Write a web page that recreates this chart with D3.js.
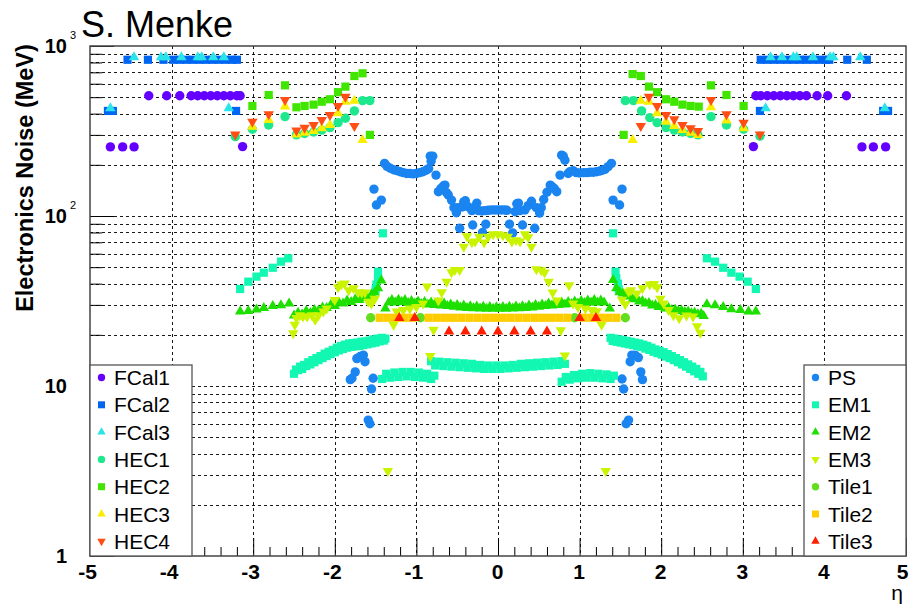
<!DOCTYPE html>
<html>
<head>
<meta charset="utf-8">
<script src="https://cdn.jsdelivr.net/npm/d3@7"></script>
<style>
  body { margin: 0; background: #fff; }
  text { font-family: "Liberation Sans", Arial, Helvetica, sans-serif; }
</style>
</head>
<body>
<svg id="chart" width="910" height="607"></svg>
<script>
// ---- data: [eta, noise in MeV] ----
const FCAL1 = [
  [-4.75,255],[-4.6,255],[-4.46,255],
  [-4.28,510],[-4.06,510],[-3.9,510],[-3.76,510],[-3.68,510],[-3.6,510],[-3.52,510],[-3.44,510],[-3.36,510],[-3.28,510],[-3.2,510],[-3.16,510],
  [-3.13,256],[3.13,256],
  [3.16,510],[3.22,510],[3.3,510],[3.38,510],[3.46,510],[3.54,510],[3.62,510],[3.7,510],[3.78,510],[3.91,510],[4.04,510],[4.27,510],
  [4.46,255],[4.6,255],[4.75,255]
];
const FCAL2 = [
  [-4.78,415],[-4.72,415],[-4.54,830],[-4.29,830],[-4.1,830],[-3.98,830],[-3.9,830],[-3.82,830],[-3.74,830],[-3.66,830],[-3.58,830],[-3.5,830],[-3.42,830],[-3.34,830],[-3.26,830],[-3.2,830],[-3.21,415],
  [3.21,415],[3.22,830],[3.3,830],[3.38,830],[3.46,830],[3.54,830],[3.62,830],[3.7,830],[3.78,830],[3.86,830],[3.94,830],[4.02,830],[4.06,830],[4.28,830],[4.52,830],[4.72,415],[4.78,415]
];
const FCAL3 = [
  [-4.75,430],[-4.46,860],[-4.13,860],[-4.07,860],[-3.88,860],[-3.68,860],[-3.63,860],[-3.49,860],[-3.36,860],[-3.3,430],
  [3.28,430],[3.34,860],[3.48,860],[3.62,860],[3.66,860],[3.86,860],[4.07,860],[4.11,860],[4.44,860],[4.74,430]
];
const HEC1 = [
  [-3.22,293],[-3.01,324],[-2.81,343],[-2.61,384],[-2.47,300],[-2.37,306],[-2.26,312],[-2.16,320],[-2.06,331],[-1.96,354],[-1.87,376],[-1.76,415],[-1.66,477],[-1.57,477],
  [1.56,477],[1.66,477],[1.76,415],[1.86,379],[1.95,354],[2.06,331],[2.16,320],[2.26,312],[2.36,306],[2.45,300],[2.61,384],[2.8,343],[3.01,324],[3.21,295]
];
const HEC2 = [
  [-3.01,444],[-2.81,515],[-2.61,587],[-2.47,436],[-2.37,444],[-2.26,452],[-2.16,470],[-2.06,486],[-1.96,535],[-1.87,577],[-1.76,666],[-1.66,691],[-1.57,300],
  [1.54,300],[1.65,684],[1.75,666],[1.85,577],[1.95,535],[2.06,486],[2.16,470],[2.26,452],[2.36,444],[2.46,440],[2.61,587],[2.8,515],[3.01,444]
];
const HEC3 = [
  [-3.01,335],[-2.81,367],[-2.61,440],[-2.47,302],[-2.37,309],[-2.26,316],[-2.16,328],[-2.06,343],[-1.96,402],[-1.87,470],[-1.76,477],[-1.66,280],
  [1.65,280],[1.75,477],[1.85,470],[1.95,402],[2.06,359],[2.16,338],[2.26,320],[2.36,309],[2.45,300],[2.61,436],[2.8,364],[3.01,328]
];
const HEC4 = [
  [-3.22,302],[-3.01,359],[-2.81,397],[-2.61,481],[-2.47,318],[-2.37,331],[-2.26,343],[-2.16,367],[-2.06,393],[-1.96,444],[-1.87,503],[-1.76,338],
  [1.75,338],[1.85,503],[1.95,444],[2.06,393],[2.16,371],[2.26,343],[2.36,328],[2.45,316],[2.61,481],[2.8,397],[3.01,354],[3.21,302]
];
const PS = [
  [-1.81,10.9],[-1.79,11.1],[-1.75,12.1],[-1.73,14.5],[-1.69,14.9],[-1.65,15.2],[-1.63,13.9],[-1.59,6.3],[-1.57,6.0],[-1.55,9.6],[-1.53,11.1],
  [-1.52,144],[-1.49,116],[-1.43,124],
  [-1.39,204],[-1.36,196],[-1.32,191],[-1.28,187],[-1.24,185],[-1.2,182],[-1.16,180],[-1.12,178],[-1.08,178],[-1.04,177],[-1.0,178],[-0.96,180],[-0.92,182],[-0.88,186],[-0.85,190],
  [-0.83,225],[-0.8,225],[-0.82,210],[-0.76,174],
  [-0.73,139],[-0.7,145],[-0.67,150],[-0.65,152],[-0.63,137],[-0.61,133],[-0.57,124],[-0.54,112],[-0.51,104.5],[-0.49,112],[-0.44,113],[-0.42,121],[-0.4,123],[-0.36,113],[-0.32,107.5],[-0.29,112],[-0.26,119],[-0.24,107.5],[-0.2,107],[-0.16,107.5],[-0.12,108],[-0.08,108.5],[-0.04,108.5],
  [-0.47,84.7],[-0.31,88.5],[-0.15,89.5],[-0.19,80],
  [0.0,108.5],[0.04,108.5],[0.08,108.5],[0.11,108],[0.14,89.5],[0.18,79.5],[0.21,106],[0.23,118],[0.25,119],[0.27,107.5],[0.3,88.5],[0.33,108.5],[0.37,115],[0.41,122],[0.45,84.7],[0.47,112],[0.51,104],[0.53,112],[0.56,125],[0.6,138],[0.64,152],[0.66,149],[0.69,145],[0.72,139],
  [0.76,174],[0.78,228],[0.8,225],[0.82,213],[0.86,178],[0.88,182],[0.92,185],[0.96,180],[1.0,179],[1.05,180],[1.09,180],[1.13,181],[1.17,181],[1.21,182],[1.25,184],[1.28,186],[1.31,188],[1.35,195],[1.39,204],
  [1.41,124],[1.49,116],[1.52,144],
  [1.52,11.0],[1.54,9.6],[1.57,6.0],[1.6,6.3],[1.62,13.9],[1.64,15.2],[1.68,15.2],[1.72,14.7],[1.75,12.1],[1.77,10.9]
];
const EM1 = [
  [-3.16,37.2],[-3.06,41.1],[-2.96,44],[-2.87,46.4],[-2.76,49.6],[-2.66,53.9],[-2.57,56.4],
  [-2.5,11.8],[-2.475,12.5],[-2.45,12.4],[-2.425,13.0],[-2.4,12.6],[-2.375,13.3],[-2.35,13.1],[-2.325,13.8],[-2.3,13.4],[-2.275,14.2],[-2.25,13.8],[-2.225,14.6],[-2.2,14.2],[-2.175,15.0],[-2.15,14.6],[-2.125,15.5],[-2.1,15.0],[-2.075,15.9],[-2.05,15.4],[-2.025,16.3],[-2.0,15.8],[-1.975,16.8],[-1.95,16.2],[-1.925,17.2],[-1.9,16.5],[-1.875,17.5],[-1.85,16.8],[-1.825,17.8],[-1.8,17.0],[-1.775,17.9],[-1.75,17.1],[-1.725,18.0],[-1.7,17.2],[-1.675,18.2],[-1.65,17.4],[-1.625,18.3],[-1.6,17.6],[-1.575,18.5],[-1.55,17.8],[-1.525,18.8],[-1.5,18.0],[-1.475,19.0],[-1.45,18.3],[-1.425,19.2],[-1.4,18.5],[-1.38,19.0],
  [-1.5,37],[-1.49,39.5],[-1.47,43],[-1.47,47],[-1.41,79.1],
  [-1.42,11.0],[-1.37,11.8],[-1.32,11.2],[-1.27,12.0],[-1.22,11.3],[-1.17,12.1],[-1.12,11.4],[-1.07,12.1],[-1.02,11.3],[-0.97,12.0],[-0.92,11.2],[-0.87,11.8],[-0.82,11.0],[-0.78,11.5],
  [-0.82,14.0],[-0.77,13.2],[-0.72,13.9],[-0.67,13.1],[-0.62,13.8],[-0.57,13.0],[-0.52,13.7],[-0.47,12.9],[-0.42,13.6],[-0.37,12.8],[-0.32,13.5],[-0.27,12.7],[-0.22,13.3],[-0.17,12.6],[-0.12,13.2],[-0.07,12.6],[-0.02,13.2],
  [0.03,12.6],[0.08,13.2],[0.13,12.7],[0.18,13.3],[0.23,12.8],[0.28,13.5],[0.33,12.9],[0.38,13.6],[0.43,13.0],[0.48,13.7],[0.53,13.1],[0.58,13.8],[0.63,13.2],[0.68,13.9],[0.73,13.3],[0.78,14.0],[0.82,13.5],
  [0.78,10.6],[0.83,11.3],[0.88,10.9],[0.93,11.6],[0.98,11.1],[1.03,11.8],[1.08,11.2],[1.13,11.9],[1.18,11.2],[1.23,11.8],[1.28,11.1],[1.33,11.7],[1.38,11.0],[1.42,11.5],
  [1.41,79.1],[1.44,47],[1.45,43],[1.47,40],[1.48,37],
  [1.38,19.2],[1.405,18.4],[1.43,19.0],[1.455,18.2],[1.48,18.8],[1.505,18.0],[1.53,18.6],[1.555,17.8],[1.58,18.4],[1.605,17.6],[1.63,18.2],[1.655,17.4],[1.68,18.0],[1.705,17.2],[1.73,17.8],[1.755,17.0],[1.78,17.5],[1.805,16.6],[1.83,17.2],[1.855,16.3],[1.88,16.8],[1.905,15.9],[1.93,16.4],[1.955,15.6],[1.98,16.1],[2.005,15.3],[2.03,15.8],[2.055,14.9],[2.08,15.4],[2.105,14.6],[2.13,15.0],[2.155,14.2],[2.18,14.6],[2.205,13.8],[2.23,14.2],[2.255,13.4],[2.28,13.8],[2.305,13.0],[2.33,13.4],[2.355,12.6],[2.38,13.0],[2.405,12.2],[2.43,12.6],[2.455,11.8],[2.48,12.1],[2.51,11.4],
  [2.56,56.4],[2.66,53.9],[2.76,49.6],[2.86,46.4],[2.96,44],[3.06,41.1],[3.16,37.2]
];
const EM2 = [
  [-3.16,27.4],[-3.06,27.6],[-2.96,28.2],[-2.87,28.8],[-2.76,29.6],[-2.66,29.9],[-2.56,30.6],
  [-2.5,26.0],[-2.45,27.0],[-2.4,26.4],[-2.35,27.6],[-2.3,26.9],[-2.25,28.0],[-2.2,27.8],[-2.15,29.0],[-2.1,28.8],[-2.05,30.0],[-2.0,29.6],[-1.95,31.0],[-1.9,30.6],[-1.85,31.8],[-1.8,31.2],[-1.75,32.4],[-1.7,32.0],[-1.65,33.2],[-1.6,33.0],[-1.55,34.6],[-1.51,35.5],[-1.47,37.6],
  [-1.43,41.8],
  [-1.38,28.6],[-1.34,31.0],[-1.3,32.0],[-1.26,31.0],[-1.22,32.2],[-1.18,31.2],[-1.14,32.0],[-1.1,30.8],[-1.06,31.6],[-1.02,30.6],[-0.98,31.4],[-0.94,30.4],[-0.9,31.2],[-0.86,30.2],[-0.82,31.0],[-0.78,30.0],[-0.74,30.8],[-0.7,29.8],[-0.66,30.6],[-0.62,29.6],[-0.58,30.2],[-0.54,29.3],[-0.5,30.0],[-0.46,29.0],[-0.42,29.8],[-0.38,28.8],[-0.34,29.5],[-0.3,28.7],[-0.26,29.4],[-0.22,28.6],[-0.18,29.3],[-0.14,28.5],[-0.1,29.2],[-0.06,28.5],[-0.02,29.1],
  [0.02,28.5],[0.06,29.2],[0.1,28.5],[0.14,29.3],[0.18,28.6],[0.22,29.4],[0.26,28.7],[0.3,29.5],[0.34,28.8],[0.38,29.8],[0.42,29.0],[0.46,30.0],[0.5,29.3],[0.54,30.2],[0.58,29.6],[0.62,30.6],[0.66,29.8],[0.7,30.8],[0.74,30.0],[0.78,31.0],[0.82,30.2],[0.86,31.2],[0.9,30.4],[0.94,31.4],[0.98,30.6],[1.02,31.6],[1.06,30.8],[1.1,31.8],[1.14,31.0],[1.18,32.0],[1.22,31.0],[1.26,31.8],[1.3,31.0],[1.37,28.6],
  [1.41,42.0],
  [1.45,37.6],[1.49,35.6],[1.53,35.0],[1.57,33.6],[1.61,33.8],[1.65,32.4],[1.69,32.6],[1.73,31.4],[1.77,31.6],[1.81,30.6],[1.85,30.8],[1.89,29.8],[1.93,30.0],[1.97,29.2],[2.01,29.4],[2.05,28.6],[2.09,28.8],[2.13,28.0],[2.17,28.2],[2.21,27.6],[2.25,27.8],[2.29,27.2],[2.33,27.4],[2.37,26.8],[2.41,27.0],[2.45,26.4],[2.49,26.6],[2.52,25.8],
  [2.56,30.3],[2.66,29.9],[2.76,29.2],[2.86,28.3],[2.97,28.0],[3.07,27.4],[3.16,27.4]
];
const EM3 = [
  [-2.51,20.4],[-2.49,22.9],[-2.47,25.1],[-2.43,26.1],[-2.39,25.6],[-2.34,25.6],[-2.28,26.1],[-2.24,24.5],[-2.2,26.1],[-2.14,27.4],[-2.1,28.6],[-2.0,32.1],[-1.96,38.1],[-1.92,39.5],[-1.88,40.1],[-1.83,36.6],[-1.77,37.6],[-1.71,35.6],[-1.67,35.4],[-1.63,35.5],[-1.59,31.3],[-1.55,30.6],[-1.51,32.6],
  [-1.35,3.16],
  [-1.28,22.9],[-1.24,27.4],[-1.16,28],[-1.08,28.6],[-1.0,29.2],[-0.92,30.6],[-0.87,38.5],[-0.83,15.0],[-0.79,21.4],[-0.73,31.8],[-0.69,35.6],[-0.63,41.1],[-0.57,46.6],[-0.53,48.2],[-0.47,48.2],
  [-0.42,66],[-0.38,76],[-0.32,70],[-0.28,70.8],[-0.23,75.5],[-0.17,69.9],[-0.12,75.5],[-0.06,78],[0.0,78.2],[0.06,77],[0.12,75.5],[0.17,70.8],[0.22,72],[0.27,70.8],[0.33,78],[0.37,75],[0.41,66],
  [0.47,48.6],[0.53,48],[0.57,46.5],[0.62,41.1],[0.67,35.5],[0.72,31.8],[0.77,21.3],[0.82,15.1],[0.87,39.2],[0.92,30.6],[0.98,29.2],[1.07,28.6],[1.15,28],[1.21,27.5],[1.27,22.9],
  [1.32,3.16],
  [1.52,32.2],[1.56,30.3],[1.6,35.9],[1.63,36.6],[1.7,35],[1.77,37.6],[1.86,39.5],[1.91,39.8],[1.95,38.1],[1.99,32.6],[2.03,30.6],[2.09,28],[2.15,26.1],[2.22,25],[2.31,26],[2.39,25.6],[2.44,22.5],[2.48,20.6]
];
const TILE1 = [[-1.56,25.2],[-0.95,25.2],[0.94,25.2],[1.56,25.2]];
const TILE2 = [
  [-1.45,25.2],[-1.35,25.2],[-1.25,25.2],[-1.15,25.2],[-1.05,25.2],
  [-0.85,25.2],[-0.75,25.2],[-0.65,25.2],[-0.55,25.2],[-0.45,25.2],[-0.35,25.2],[-0.25,25.2],[-0.15,25.2],[-0.05,25.2],
  [0.05,25.2],[0.15,25.2],[0.25,25.2],[0.35,25.2],[0.45,25.2],[0.55,25.2],[0.65,25.2],[0.75,25.2],[0.85,25.2],
  [1.05,25.2],[1.15,25.2],[1.25,25.2],[1.35,25.2],[1.45,25.2]
];
const TILE3 = [
  [-1.21,25.1],[-1.02,25.1],[-0.6,20.9],[-0.4,20.9],[-0.2,20.9],[0.0,20.9],[0.2,20.9],[0.4,20.9],[0.6,20.9],[1.0,25.1],[1.2,25.1]
];

// axis ticks and labels
const ETA_TICKS = [-5,-4,-3,-2,-1,0,1,2,3,4,5];
const NOISE_MAJOR = [1,10,100,1000];
const NOISE_LABELS = [["1",""],["10",""],["10","2"],["10","3"]];

// series styling (legend order = drawing order)
const SERIES = [
  {name:"FCal1", values:FCAL1, shape:"circle", color:"#6400ff"},
  {name:"FCal2", values:FCAL2, shape:"square", color:"#0066f2"},
  {name:"FCal3", values:FCAL3, shape:"up",     color:"#2ae4ea"},
  {name:"HEC1",  values:HEC1,  shape:"circle", color:"#1ee88e"},
  {name:"HEC2",  values:HEC2,  shape:"square", color:"#40e600"},
  {name:"HEC3",  values:HEC3,  shape:"up",     color:"#f8ee00"},
  {name:"HEC4",  values:HEC4,  shape:"down",   color:"#ff4d14"},
  {name:"PS",    values:PS,    shape:"circle", color:"#1a84f0"},
  {name:"EM1",   values:EM1,   shape:"square", color:"#12f7b2"},
  {name:"EM2",   values:EM2,   shape:"up",     color:"#1ee000"},
  {name:"EM3",   values:EM3,   shape:"down",   color:"#c8f400"},
  {name:"Tile1", values:TILE1, shape:"circle", color:"#62de1e"},
  {name:"Tile2", values:TILE2, shape:"square", color:"#ffcc00"},
  {name:"Tile3", values:TILE3, shape:"up",     color:"#ff1e00"}
];

// ---- layout ----
const W = 910, H = 607;
const L = 90, R = 906, T = 46, B = 556;

const svg = d3.select("#chart");
svg.append("rect").attr("width", W).attr("height", H).attr("fill", "#fff");

const x = d3.scaleLinear().domain([-5, 5]).range([L, R]);
const y = d3.scaleLog().domain([1, 1000]).range([B, T]);

const noiseMinor = [];
[1, 10, 100].forEach(p => { for (let k = 2; k <= 9; k++) noiseMinor.push(k * p); });
const etaMinor = d3.range(-48, 49, 2).map(v => v / 10).filter(v => Math.abs(v - Math.round(v)) > 1e-6);

// grid
const grid = svg.append("g").attr("stroke", "#000").attr("stroke-width", 0.9)
  .attr("stroke-dasharray", "3,3").attr("shape-rendering", "crispEdges");
grid.selectAll("line.h").data(noiseMinor.concat([10, 100])).join("line").attr("class", "h")
  .attr("x1", L).attr("x2", R).attr("y1", d => Math.round(y(d)) + 0.5).attr("y2", d => Math.round(y(d)) + 0.5);
grid.selectAll("line.v").data(ETA_TICKS.filter(d => d > -5 && d < 5)).join("line").attr("class", "v")
  .attr("y1", T).attr("y2", B).attr("x1", d => Math.round(x(d)) + 0.5).attr("x2", d => Math.round(x(d)) + 0.5);

// markers
function shapePath(shape, s) {
  if (shape === "circle") {
    const r = s.r;
    return `M${r},0A${r},${r} 0 1,1 ${-r},0A${r},${r} 0 1,1 ${r},0Z`;
  }
  if (shape === "square") {
    const a = s.a;
    return `M${-a},${-a}h${2 * a}v${2 * a}h${-2 * a}Z`;
  }
  const hw = s.hw, h = s.h;
  if (shape === "up") return `M0,${-2 * h / 3}L${hw},${h / 3}L${-hw},${h / 3}Z`;
  return `M0,${2 * h / 3}L${hw},${-h / 3}L${-hw},${-h / 3}Z`;
}
const plotSize = {r: 4.7, a: 4.1, hw: 5.2, h: 9};
const legendSize = {r: 3.7, a: 3.5, hw: 4.2, h: 7.4};

const marks = svg.append("g");
SERIES.forEach(s => {
  marks.append("g").selectAll("path").data(s.values).join("path")
    .attr("transform", d => `translate(${x(d[0])},${y(d[1])})`)
    .attr("d", shapePath(s.shape, plotSize))
    .attr("fill", s.color);
});

// axes
function styleAxis(g) {
  g.select(".domain").remove();
  g.selectAll(".tick line").attr("stroke", "#000").attr("stroke-width", 1);
}
svg.append("g").attr("transform", `translate(0,${B})`)
  .call(d3.axisBottom(x).tickValues(etaMinor).tickSize(-9).tickFormat(""))
  .call(styleAxis);
svg.append("g").attr("transform", `translate(0,${B})`)
  .call(d3.axisBottom(x).tickValues(ETA_TICKS).tickSize(-18).tickPadding(8).tickFormat(d => String(d)))
  .call(styleAxis)
  .call(g => g.selectAll("text").attr("font-size", 21).attr("font-weight", "bold").attr("fill", "#000")
    .attr("dx", d => d < 0 ? -3 : (d === 5 ? -4 : -1))
    .attr("font-family", "Liberation Sans, Arial, sans-serif"));
svg.append("g").attr("transform", `translate(${L},0)`)
  .call(d3.axisLeft(y).tickValues(noiseMinor).tickSize(-12).tickFormat(""))
  .call(styleAxis);
svg.append("g").attr("transform", `translate(${L},0)`)
  .call(d3.axisLeft(y).tickValues(NOISE_MAJOR).tickSize(-24).tickFormat(""))
  .call(styleAxis);

// y tick labels with superscript exponents
const ylab = svg.append("g").attr("font-size", 20).attr("font-weight", "bold").attr("fill", "#000");
NOISE_MAJOR.forEach((v, i) => {
  const [base, exp] = NOISE_LABELS[i];
  ylab.append("text").attr("x", 67).attr("y", y(v)).attr("dy", "0.36em")
    .attr("text-anchor", "end").text(base);
  if (exp) {
    ylab.append("text").attr("x", 70).attr("y", y(v) - 7).attr("font-size", 11).attr("font-weight", "normal")
      .text(exp);
  }
});

// frame
svg.append("rect").attr("x", L).attr("y", T).attr("width", R - L).attr("height", B - T)
  .attr("fill", "none").attr("stroke", "#444").attr("stroke-width", 1.5);

// titles
svg.append("text").attr("x", 81).attr("y", 37).attr("font-size", 36).attr("fill", "#000").text("S. Menke");
svg.append("text").attr("transform", "translate(33,178) rotate(-90)").attr("text-anchor", "middle")
  .attr("font-size", 23.5).attr("font-weight", "bold").attr("fill", "#000").text("Electronics Noise (MeV)");
svg.append("text").attr("x", 903).attr("y", 600).attr("text-anchor", "end").attr("font-size", 21)
  .attr("fill", "#000").text("η");

// legends
function legend(items, x0) {
  const g = svg.append("g");
  g.append("rect").attr("x", x0).attr("y", 365).attr("width", 102).attr("height", B - 365)
    .attr("fill", "#fff").attr("stroke", "#555").attr("stroke-width", 1.3);
  items.forEach((s, i) => {
    const cy = 377.5 + i * 27.3;
    g.append("path").attr("transform", `translate(${x0 + 11.5},${cy})`)
      .attr("d", shapePath(s.shape, legendSize)).attr("fill", s.color);
    g.append("text").attr("x", x0 + 24).attr("y", cy).attr("dy", "0.36em")
      .attr("font-size", 21).attr("fill", "#000").text(s.name);
  });
}
legend(SERIES.slice(0, 7), L);
legend(SERIES.slice(7), 804);
</script>
</body>
</html>
